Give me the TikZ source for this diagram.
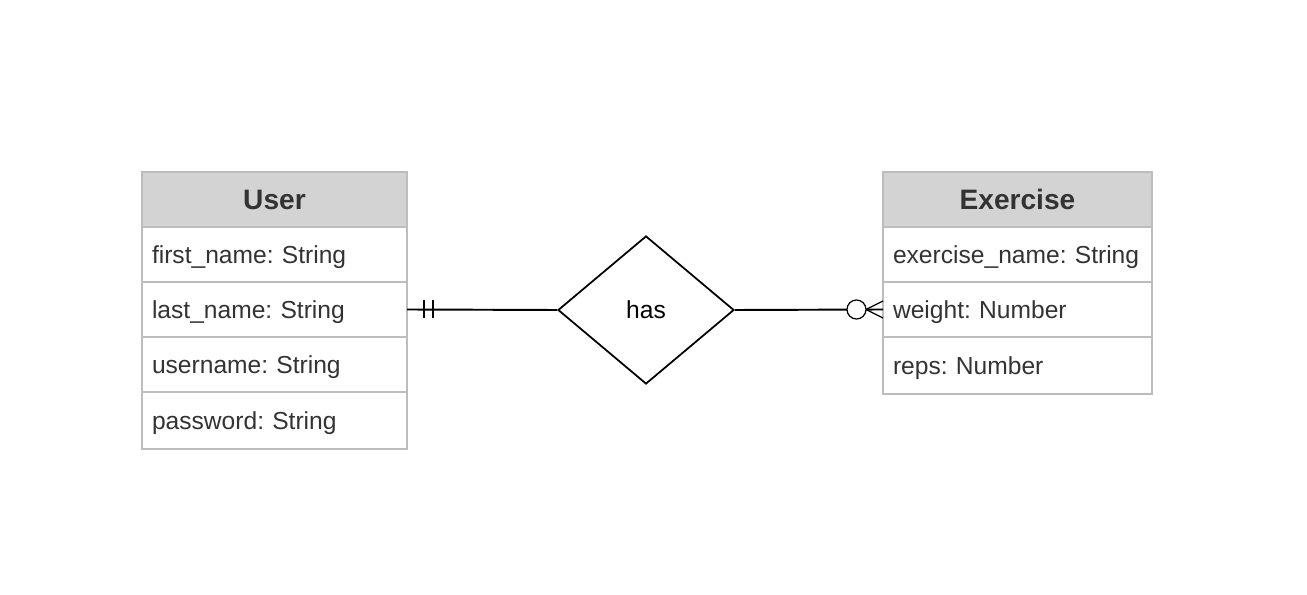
\documentclass[tikz,border=0pt]{standalone}
\usepackage{fontspec}
\setmainfont{Liberation Sans}
\usetikzlibrary{positioning,shapes.geometric,calc}
\definecolor{hdrgray}{HTML}{D3D3D3}
\definecolor{edgegray}{HTML}{BDBDBD}
\definecolor{textdark}{HTML}{333333}
\frenchspacing

\begin{document}
\begin{tikzpicture}[every node/.style={font=\fontsize{14}{16}\selectfont},
  hdrbox/.style={rectangle, draw=edgegray, line width=1pt, fill=hdrgray, minimum height=1.1cm, outer sep=0pt, font=\fontsize{16}{18}\selectfont\bfseries, text=textdark},
  attrbox/.style={rectangle, draw=edgegray, line width=1pt, fill=white, minimum height=1.1cm, outer sep=0pt, inner xsep=0.2cm, align=left, text=textdark, text height=2.3ex, text depth=0.4ex},
  userrow/.style={attrbox, text width=4.9cm},
  exrow/.style={attrbox, text width=4.98cm},
  relshape/.style={diamond, draw=black, line width=1pt, minimum width=3.52cm, minimum height=2.96cm, inner sep=0pt, text=black},
  conn/.style={draw=black, line width=1.1pt},
  tick/.style={draw=black, line width=0.7pt},
]
\useasboundingbox (0,0) rectangle (26.14,-11.9);

% USER entity
\node[hdrbox, minimum width=5.3cm] (user) at (5.49,-3.99) {User};
\node[userrow, below=0pt of user] (u1) {first\_name: String};
\node[userrow, below=0pt of u1] (u2) {last\_name: String};
\node[userrow, below=0pt of u2] (u3) {username: String};
\node[userrow, below=0pt of u3, minimum height=1.14cm] (u4) {password: String};

% EXERCISE entity
\node[hdrbox, minimum width=5.38cm] (exercise) at (20.35,-3.99) {Exercise};
\node[exrow, below=0pt of exercise] (e1) {exercise\_name: String};
\node[exrow, below=0pt of e1] (e2) {weight: Number};
\node[exrow, below=0pt of e2, minimum height=1.14cm] (e3) {reps: Number};

% relationship
\node[relshape] (rel) at (12.92,-6.2) {has};

% connectors
\draw[conn] (u2.east) -- (rel.west);
\draw[conn] (rel.east) -- (e2.west);

% exactly one (user side)
\draw[tick] ($(u2.east)+(0.34,0.18)$) -- ($(u2.east)+(0.34,-0.18)$);
\draw[tick] ($(u2.east)+(0.52,0.18)$) -- ($(u2.east)+(0.52,-0.18)$);

% zero or many (exercise side)
\draw[tick, fill=white] ($(e2.west)+(-0.53,0)$) circle (0.19);
\draw[tick] ($(e2.west)+(-0.34,0)$) -- ($(e2.west)+(0,0.17)$);
\draw[tick] ($(e2.west)+(-0.34,0)$) -- (e2.west);
\draw[tick] ($(e2.west)+(-0.34,0)$) -- ($(e2.west)+(0,-0.17)$);

\end{tikzpicture}
\end{document}
